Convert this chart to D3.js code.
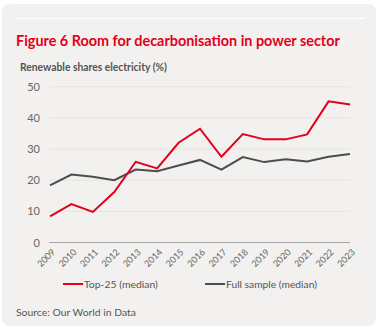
<!DOCTYPE html>
<html>
<head>
<meta charset="utf-8">
<script src="https://cdn.jsdelivr.net/npm/d3@7"></script>
<style>
  body { margin: 0; background: #fff; }
  text { font-family: Lato, "Open Sans", sans-serif; }
</style>
</head>
<body>
<div class="Chart"></div>
<script>
const years = [2009, 2010, 2011, 2012, 2013, 2014, 2015, 2016, 2017, 2018, 2019, 2020, 2021, 2022, 2023];
const top25 = [8.4, 12.3, 9.8, 16.2, 25.9, 23.8, 32.0, 36.5, 27.5, 34.8, 33.1, 33.1, 34.7, 45.3, 44.3];
const fullSample = [18.3, 21.8, 21.1, 20.0, 23.4, 22.9, 24.7, 26.5, 23.4, 27.4, 25.8, 26.7, 26.0, 27.5, 28.4];
const yTicks = [0, 10, 20, 30, 40, 50];
const seriesNames = ["Top-25 (median)", "Full sample (median)"];

const w = 378;
const h = 329;
const red = "#e2001a";
const grey = "#4d4d4d";

// shrink/grow font so the text spans the wanted width
function fitWidth(sel, width) {
  sel.each(function() {
    const size = parseFloat(d3.select(this).attr("font-size"));
    const len = this.getComputedTextLength();
    d3.select(this).attr("font-size", (size * width / len).toFixed(2));
  });
}

const svg = d3
  .select(".Chart")
  .append("svg")
  .attr("width", w)
  .attr("height", h);

// card
svg
  .append("rect")
  .attr("x", 2)
  .attr("y", 4)
  .attr("width", 374)
  .attr("height", 322)
  .attr("rx", 8)
  .attr("fill", "#f2f1ef");

svg
  .append("line")
  .attr("x1", 14)
  .attr("x2", 365)
  .attr("y1", 18.5)
  .attr("y2", 18.5)
  .attr("stroke", "#fff")
  .attr("stroke-width", 1);

svg
  .append("text")
  .attr("x", 16)
  .attr("y", 46)
  .attr("fill", red)
  .attr("font-size", 15)
  .attr("font-weight", "bold")
  .text("Figure 6 Room for decarbonisation in power sector")
  .call(fitWidth, 324);

svg
  .append("text")
  .attr("x", 20)
  .attr("y", 71)
  .attr("fill", "#555")
  .attr("font-size", 10)
  .attr("font-weight", "bold")
  .text("Renewable shares electricity (%)")
  .call(fitWidth, 147);

const xScale = d3
  .scalePoint()
  .domain(years)
  .range([50, 350]);

const yScale = d3
  .scaleLinear()
  .domain([0, 50])
  .range([242.5, 86.7]);

// gridlines
svg
  .append("g")
  .selectAll("line")
  .data(yTicks.filter(d => d > 0))
  .enter()
  .append("line")
  .attr("x1", 49)
  .attr("x2", 350)
  .attr("y1", d => yScale(d))
  .attr("y2", d => yScale(d))
  .attr("stroke", "#e6e4e1")
  .attr("stroke-width", 1);

const yAxis = d3
  .axisLeft(yScale)
  .tickValues(yTicks)
  .tickSize(0)
  .tickPadding(0);

const gy = svg
  .append("g")
  .attr("transform", "translate(40,0)")
  .call(yAxis);
gy.select(".domain").remove();
gy.selectAll("text")
  .attr("fill", "#666")
  .attr("font-size", 11)
  .style("font-family", "Lato, sans-serif");

// baseline
svg
  .append("line")
  .attr("x1", 49)
  .attr("x2", 350)
  .attr("y1", yScale(0))
  .attr("y2", yScale(0))
  .attr("stroke", "#a5a5a5")
  .attr("stroke-width", 1.2);

const xAxis = d3
  .axisBottom(xScale)
  .tickSize(0)
  .tickPadding(0);

const gx = svg
  .append("g")
  .attr("transform", "translate(0," + (yScale(0) + 6) + ")")
  .call(xAxis);
gx.select(".domain").remove();
gx.selectAll("text")
  .attr("fill", "#666")
  .attr("font-size", 9)
  .attr("y", 0)
  .attr("dy", "0.35em")
  .attr("text-anchor", "end")
  .attr("transform", "translate(3,2) rotate(-45)")
  .style("font-family", "Lato, sans-serif");

const line = d3
  .line()
  .x((d, i) => xScale(years[i]))
  .y(d => yScale(d));

svg
  .append("path")
  .datum(fullSample)
  .attr("d", line)
  .attr("fill", "none")
  .attr("stroke", grey)
  .attr("stroke-width", 2);

svg
  .append("path")
  .datum(top25)
  .attr("d", line)
  .attr("fill", "none")
  .attr("stroke", red)
  .attr("stroke-width", 2);

// legend
const legendX = [63, 205];
const legendW = [74, 91];
const legend = svg
  .append("g")
  .selectAll("g")
  .data(seriesNames)
  .enter()
  .append("g")
  .attr("transform", (d, i) => "translate(" + legendX[i] + ",284)");

legend
  .append("line")
  .attr("x1", 0)
  .attr("x2", 20)
  .attr("stroke", (d, i) => (i === 0 ? red : grey))
  .attr("stroke-width", 2);

legend
  .append("text")
  .attr("x", 21)
  .attr("dy", "0.35em")
  .attr("fill", "#555")
  .attr("font-size", 10)
  .text(d => d)
  .each(function(d, i) { fitWidth(d3.select(this), legendW[i]); });

svg
  .append("text")
  .attr("x", 16)
  .attr("y", 316)
  .attr("fill", "#555")
  .attr("font-size", 10)
  .text("Source: Our World in Data")
  .call(fitWidth, 120);
</script>
</body>
</html>
